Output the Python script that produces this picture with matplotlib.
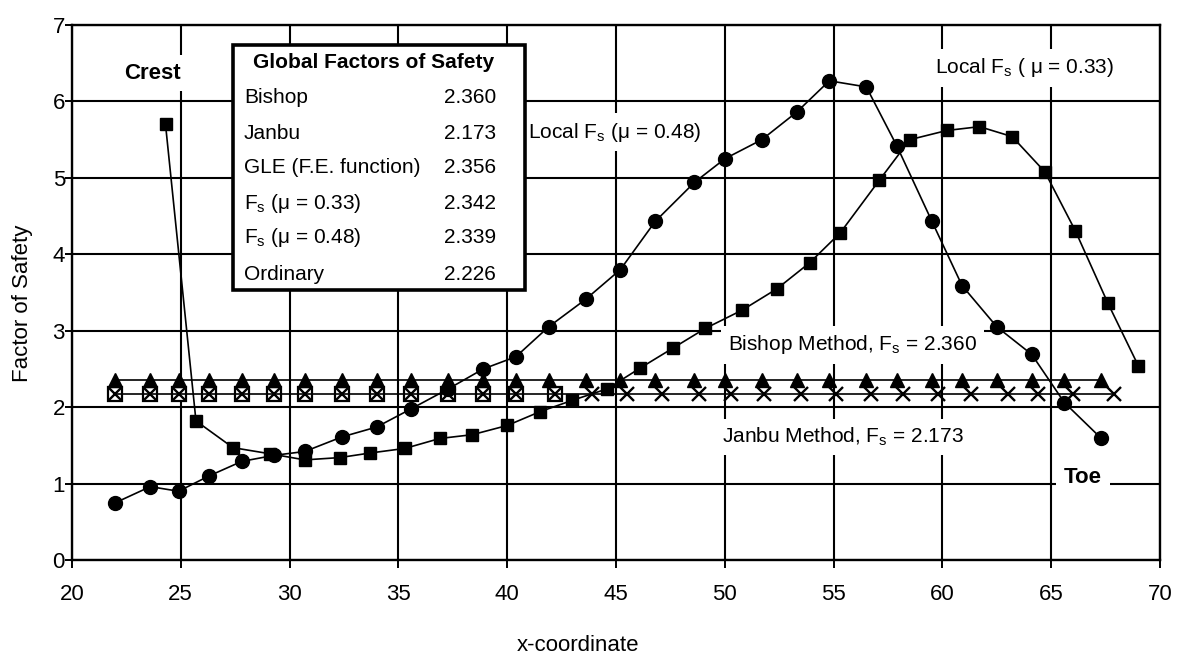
import matplotlib
matplotlib.use('Agg')
import matplotlib.pyplot as plt
from matplotlib.patches import Rectangle

plt.rcParams['font.family'] = ['Liberation Sans', 'DejaVu Sans']
plt.rcParams['mathtext.fontset'] = 'custom'
plt.rcParams['mathtext.rm'] = 'Liberation Sans'
plt.rcParams['mathtext.default'] = 'regular'

# local factor of safety along the slip surface, mu = 0.48 (circles)
x_mu48 = [22.0, 23.6, 24.9, 26.3, 27.8, 29.3, 30.7, 32.4, 34.0, 35.6,
          37.3, 38.9, 40.4, 41.9, 43.6, 45.2, 46.8, 48.6, 50.0, 51.7,
          53.3, 54.8, 56.5, 57.9, 59.5, 60.9, 62.5, 64.1, 65.6, 67.3]
fs_mu48 = [0.75, 0.96, 0.90, 1.10, 1.29, 1.37, 1.42, 1.61, 1.74, 1.98,
           2.24, 2.50, 2.66, 3.05, 3.41, 3.80, 4.43, 4.94, 5.25, 5.50,
           5.86, 6.27, 6.19, 5.42, 4.44, 3.59, 3.05, 2.69, 2.06, 1.59]

# local factor of safety, mu = 0.33 (squares)
x_mu33 = [24.3, 25.7, 27.4, 29.1, 30.7, 32.3, 33.7, 35.3, 36.9, 38.4,
          40.0, 41.5, 43.0, 44.6, 46.1, 47.6, 49.1, 50.8, 52.4, 53.9,
          55.3, 57.1, 58.5, 60.2, 61.7, 63.2, 64.7, 66.1, 67.6, 69.0]
fs_mu33 = [5.70, 1.82, 1.47, 1.39, 1.31, 1.34, 1.40, 1.46, 1.59, 1.64,
           1.76, 1.94, 2.09, 2.24, 2.51, 2.77, 3.03, 3.27, 3.55, 3.89,
           4.28, 4.97, 5.50, 5.62, 5.67, 5.54, 5.08, 4.31, 3.36, 2.54]

# x positions of the janbu crosses
x_janbu = [22.0, 23.6, 24.9, 26.3, 27.8, 29.3, 30.7, 32.4, 34.0, 35.6,
           37.3, 38.9, 40.4, 42.2, 43.9, 45.5, 47.1, 48.8, 50.3, 51.8,
           53.5, 55.1, 56.7, 58.2, 59.8, 61.3, 63.0, 64.4, 66.0, 67.9]
n_open = 14  # open squares only drawn on the left part

bishop_fs = 2.360
janbu_fs = 2.173

methods = ['Bishop', 'Janbu', 'GLE (F.E. function)',
           'F$_s$ (μ = 0.33)', 'F$_s$ (μ = 0.48)', 'Ordinary']
global_fs = [2.360, 2.173, 2.356, 2.342, 2.339, 2.226]

fig = plt.figure(figsize=(11.79, 6.6), dpi=100)
ax = fig.add_axes([0.061, 0.1515, 0.923, 0.8106])

lw = 1.2
ax.plot(x_janbu, [janbu_fs] * len(x_janbu), color='black', lw=lw,
        marker='x', ms=10, mew=1.7, zorder=3)
ax.plot(x_janbu[:n_open], [janbu_fs] * n_open, ls='none', marker='s',
        mfc='white', mec='black', ms=10, mew=1.6, zorder=2.9)
ax.plot(x_mu48, [bishop_fs] * len(x_mu48), color='black', lw=lw,
        marker='^', ms=10, zorder=3)
ax.plot(x_mu33, fs_mu33, color='black', lw=lw, marker='s', ms=9, zorder=3.1)
ax.plot(x_mu48, fs_mu48, color='black', lw=lw, marker='o', ms=10, zorder=3.2)

ax.set_xlim(20, 70)
ax.set_ylim(0, 7)
ax.set_xticks(range(20, 75, 5))
ax.set_yticks(range(0, 8))
ax.set_axisbelow(True)
ax.grid(True, color='black', lw=1.5)
for s in ax.spines.values():
    s.set_linewidth(1.7)
ax.tick_params(axis='x', direction='out', length=6, width=1.4, pad=11, labelsize=16)
ax.tick_params(axis='y', direction='out', length=5, width=1.4, pad=0, labelsize=16)

ax.set_xlabel('x-coordinate', fontsize=16)
ax.set_ylabel('Factor of Safety', fontsize=16)
ax.xaxis.set_label_coords(0.465, -0.14)
ax.yaxis.set_label_coords(-0.036, 0.48)

box = dict(facecolor='white', edgecolor='none', boxstyle='square,pad=0.35')
ax.text(0.0744, 0.91, 'Crest', transform=ax.transAxes, fontsize=16,
        fontweight='bold', ha='center', va='center', bbox=box, zorder=1.5)
ax.text(0.929, 0.155, 'Toe', transform=ax.transAxes, fontsize=16,
        fontweight='bold', ha='center', va='center', bbox=box, zorder=1.5)
ax.text(0.419, 0.80, 'Local F$_s$ (μ = 0.48)', transform=ax.transAxes,
        fontsize=15, ha='left', va='center', bbox=box, zorder=1.5)
ax.text(0.793, 0.92, 'Local F$_s$ ( μ = 0.33)', transform=ax.transAxes,
        fontsize=15, ha='left', va='center', bbox=box, zorder=1.5)
ax.text(0.603, 0.402, 'Bishop Method, F$_s$ = 2.360', transform=ax.transAxes,
        fontsize=15, ha='left', va='center', bbox=box, zorder=1.5)
ax.text(0.597, 0.23, 'Janbu Method, F$_s$ = 2.173', transform=ax.transAxes,
        fontsize=15, ha='left', va='center', bbox=box, zorder=1.5)

# table of global factors of safety
ax.add_patch(Rectangle((0.148, 0.505), 0.268, 0.458, transform=ax.transAxes,
                       facecolor='white', edgecolor='black', lw=2.6, zorder=5))
ax.text(0.166, 0.929, 'Global Factors of Safety', transform=ax.transAxes,
        fontsize=15, fontweight='bold', ha='left', va='center', zorder=6)
row_y = [0.864, 0.798, 0.733, 0.667, 0.602, 0.533]
for name, val, yy in zip(methods, global_fs, row_y):
    ax.text(0.158, yy, name, transform=ax.transAxes, fontsize=15,
            ha='left', va='center', zorder=6)
    ax.text(0.390, yy, '%.3f' % val, transform=ax.transAxes, fontsize=15,
            ha='right', va='center', zorder=6)

fig.savefig('out.png', dpi=100)
